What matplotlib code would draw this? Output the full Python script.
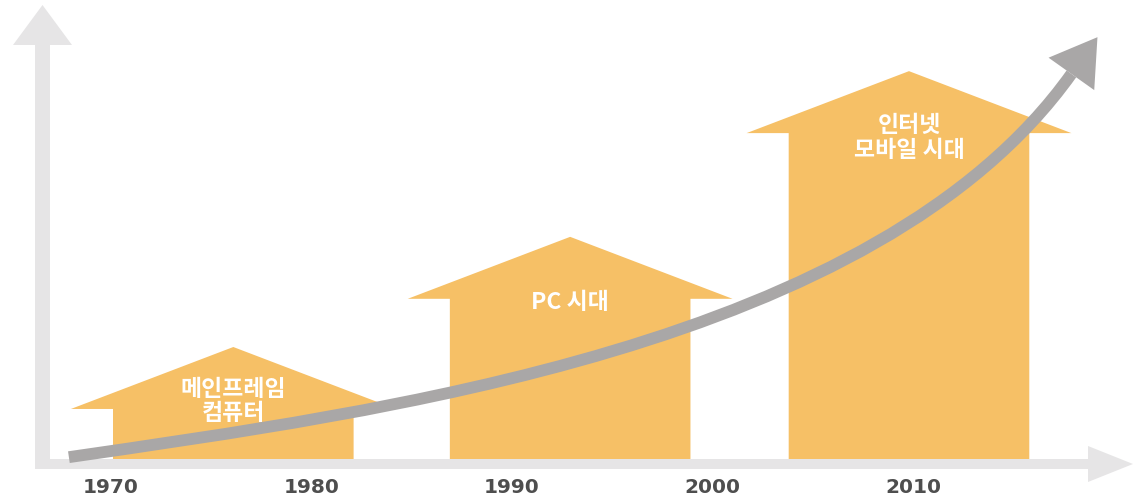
import numpy as np
import matplotlib
matplotlib.use("Agg")
import matplotlib.pyplot as plt
from matplotlib.patches import Polygon, PathPatch
from matplotlib.path import Path

# ---------------- data ----------------
years = [1970, 1980, 1990, 2000, 2010]                       # x-axis labels
eras = ["메인프레임\n컴퓨터", "PC 시대", "인터넷\n모바일 시대"]  # era names
era_centers = [1976.1, 1992.9, 2009.8]                        # centre year of each era arrow
era_levels = [10.9, 34.9, 71.0]                               # body height of each era arrow

# growth trend
trend_years = [1967.9, 1972.4, 1978.4, 1982.1, 1986.9, 1990.4, 1992.6, 1999.0,
               2003.8, 2007.8, 2011.7, 2013.0, 2014.3, 2015.9, 2016.8, 2017.9]
trend_levels = [0.4, 2.8, 7.0, 10.0, 14.6, 18.1, 20.9, 29.6,
                37.9, 46.2, 56.4, 60.6, 66.0, 73.6, 78.9, 83.9]
trend_tip_year = 2019.2
trend_tip_level = 91.9

# ---------------- layout ----------------
W, H = 1134, 498
X0_PX, X0_YEAR, PX_PER_YEAR = 111, 1970, 20.05
BASE_PX, PX_PER_LEVEL = 459, 4.59

def px2x(px):
    return X0_YEAR + (px - X0_PX) / PX_PER_YEAR

def px2y(py):
    return (BASE_PX - py) / PX_PER_LEVEL

ORANGE = "#F6C066"
TREND = "#A9A7A7"
AXIS = "#E6E5E6"
YEAR_COLOR = "#4E4E4E"

BODY_HALF = 6.0      # years
HEAD_HALF = 8.1      # years
HEAD_H = 13.5        # levels
label_levels = [12.5, 34.2, 69.9]

fig = plt.figure(figsize=(W / 100, H / 100), dpi=100)
ax = fig.add_axes([0, 0, 1, 1])
ax.set_xlim(px2x(0), px2x(W))
ax.set_ylim(px2y(H), px2y(0))
ax.axis("off")

# ---------------- axis arrows (decoration) ----------------
yshaft = [(px2x(35), px2y(469)), (px2x(35), px2y(45)), (px2x(13), px2y(45)),
          (px2x(42.5), px2y(5)), (px2x(72), px2y(45)), (px2x(50), px2y(45)),
          (px2x(50), px2y(469))]
ax.add_patch(Polygon(yshaft, closed=True, facecolor=AXIS, edgecolor="none", zorder=1))
xshaft = [(px2x(35), px2y(459)), (px2x(1088), px2y(459)), (px2x(1088), px2y(446)),
          (px2x(1133), px2y(464)), (px2x(1088), px2y(482)), (px2x(1088), px2y(469)),
          (px2x(35), px2y(469))]
ax.add_patch(Polygon(xshaft, closed=True, facecolor=AXIS, edgecolor="none", zorder=1))

# ---------------- era arrows ----------------
for c, top in zip(era_centers, era_levels):
    verts = [(c - BODY_HALF, 0), (c - BODY_HALF, top), (c - HEAD_HALF, top),
             (c, top + HEAD_H), (c + HEAD_HALF, top), (c + BODY_HALF, top),
             (c + BODY_HALF, 0)]
    ax.add_patch(Polygon(verts, closed=True, facecolor=ORANGE, edgecolor="none", zorder=2))

for name, c, ly in zip(eras, era_centers, label_levels):
    ax.text(c, ly, name, ha="center", va="center", multialignment="center",
            color="white", fontsize=16.5, fontweight="bold", linespacing=1.08,
            family=["Noto Sans CJK KR", "DejaVu Sans"], zorder=6)

# ---------------- trend curve: least-squares cubic Bezier through read points ----
P = ax.transData.transform(np.column_stack([trend_years, trend_levels]))
p0, p3 = P[0], P[-1]
seg = np.hypot(*np.diff(P, axis=0).T)
t = np.concatenate([[0], np.cumsum(seg)]) / seg.sum()

def bern(t):
    return np.column_stack([(1 - t) ** 3, 3 * t * (1 - t) ** 2, 3 * t ** 2 * (1 - t), t ** 3])

for _ in range(30):
    B = bern(t)
    rhs = P - np.outer(B[:, 0], p0) - np.outer(B[:, 3], p3)
    ctrl, *_ = np.linalg.lstsq(B[:, 1:3], rhs, rcond=None)
    p1, p2 = ctrl
    C = bern(t) @ np.vstack([p0, p1, p2, p3])
    d1 = (3 * (1 - t) ** 2)[:, None] * (p1 - p0) + (6 * t * (1 - t))[:, None] * (p2 - p1) \
        + (3 * t ** 2)[:, None] * (p3 - p2)
    d2 = (6 * (1 - t))[:, None] * (p2 - 2 * p1 + p0) + (6 * t)[:, None] * (p3 - 2 * p2 + p1)
    num = np.sum((C - P) * d1, axis=1)
    den = np.sum(d1 * d1, axis=1) + np.sum((C - P) * d2, axis=1)
    t = np.clip(t - num / den, 0, 1)
    t[0], t[-1] = 0.0, 1.0

ctrl_data = ax.transData.inverted().transform(np.vstack([p0, p1, p2, p3]))
curve = Path(ctrl_data, [Path.MOVETO, Path.CURVE4, Path.CURVE4, Path.CURVE4])
ax.add_patch(PathPatch(curve, facecolor="none", edgecolor=TREND,
                       lw=8.5, capstyle="butt", zorder=4))

# arrow head
tip = ax.transData.transform((trend_tip_year, trend_tip_level))
d = tip - p3
u = d / np.hypot(*d)
n = np.array([-u[1], u[0]])
half_w = 28
head_disp = np.array([p3 + n * half_w, tip, p3 - n * half_w])
head = ax.transData.inverted().transform(head_disp)
ax.add_patch(Polygon(head, closed=True, facecolor=TREND, edgecolor="none", zorder=5))

# ---------------- year labels ----------------
for y in years:
    ax.text(y, px2y(487), str(y), ha="center", va="center", color=YEAR_COLOR,
            fontsize=14.5, fontweight="bold", family="DejaVu Sans", zorder=6)

fig.savefig("out.png", dpi=100)
